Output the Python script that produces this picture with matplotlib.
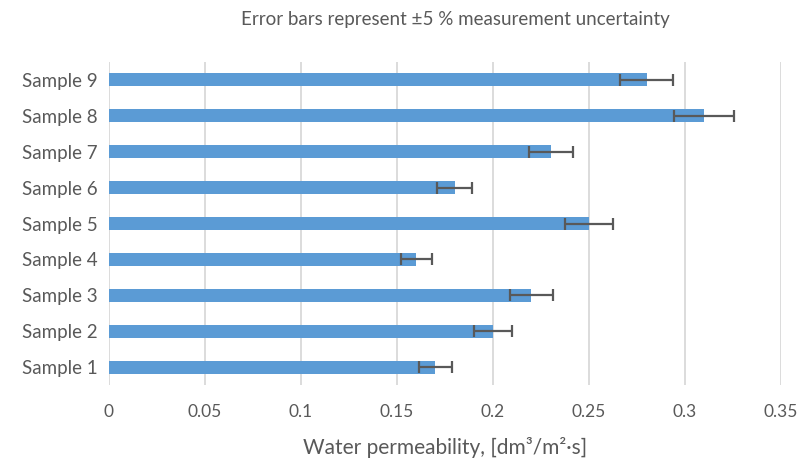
import matplotlib
matplotlib.use("Agg")
import matplotlib.pyplot as plt
import numpy as np

categories = ["Sample 1", "Sample 2", "Sample 3", "Sample 4", "Sample 5",
              "Sample 6", "Sample 7", "Sample 8", "Sample 9"]
values = [0.17, 0.20, 0.22, 0.16, 0.25, 0.18, 0.23, 0.31, 0.28]
uncertainty = 0.05
xticks = [0, 0.05, 0.1, 0.15, 0.2, 0.25, 0.3, 0.35]
xticklabels = ["0", "0.05", "0.1", "0.15", "0.2", "0.25", "0.3", "0.35"]
title = "Error bars represent ±5 % measurement uncertainty"
xlabel = "Water permeability, [dm³/m²·s]"

plt.rcParams['font.family'] = ['Lato', 'DejaVu Sans']
txt = "#595959"

fig = plt.figure(figsize=(8.04, 4.61), dpi=100)
ax = fig.add_axes([109/804, 1-385/461, (781-109)/804, (385-62)/461])

y = np.arange(len(categories))
errs = [v * uncertainty for v in values]
ax.barh(y, values, height=0.36, color="#5B9BD5", zorder=2)
ax.errorbar(values, y, xerr=errs, fmt="none", ecolor="#595959",
            elinewidth=1.6, capsize=4.5, capthick=1.6, zorder=3)

ax.set_xlim(0, 0.35)
ax.set_ylim(-0.5, len(categories) - 0.5)
ax.set_xticks(xticks)
ax.set_xticklabels(xticklabels)
ax.set_yticks(y)
ax.set_yticklabels(categories)
ax.tick_params(axis="both", length=0, colors=txt)
ax.tick_params(axis="x", pad=14, labelsize=12.5)
ax.tick_params(axis="y", pad=8, labelsize=13.5)
ax.grid(axis="x", color="#D9D9D9", linewidth=1.3, zorder=0)
for s in ax.spines.values():
    s.set_visible(False)

ax.set_xlabel(xlabel, fontsize=15, color=txt, labelpad=12)
fig.text(455/804, 1-20/461, title, ha="center", va="center", fontsize=13.5, color=txt)

fig.savefig("out.png", dpi=100)
